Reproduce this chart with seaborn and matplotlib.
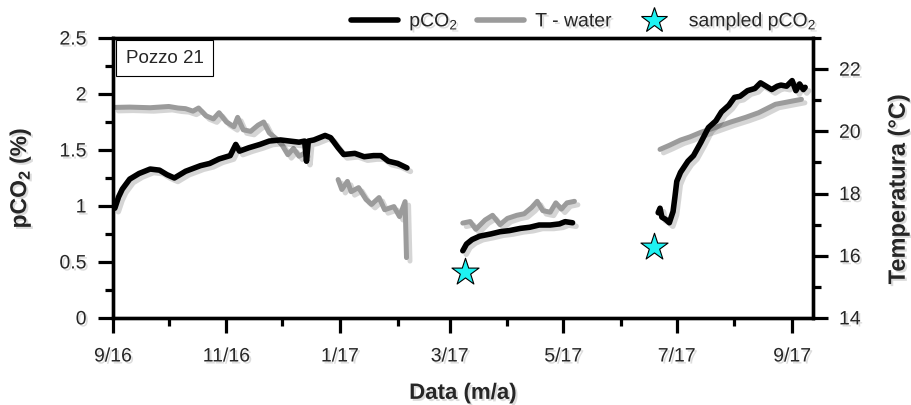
import matplotlib
matplotlib.use("Agg")
import pandas as pd
import seaborn as sns
import matplotlib.pyplot as plt
import matplotlib.dates as mdates
import matplotlib.patheffects as pe
from matplotlib.lines import Line2D
from matplotlib.ticker import MultipleLocator, FuncFormatter

# pCO2 (%) logger, three deployments
pco2_dates_1 = ["2016-09-02", "2016-09-04", "2016-09-06", "2016-09-10", "2016-09-15", "2016-09-21",
                "2016-09-26", "2016-09-30", "2016-10-04", "2016-10-10", "2016-10-18", "2016-10-23",
                "2016-10-28", "2016-11-03", "2016-11-06", "2016-11-08", "2016-11-13", "2016-11-19",
                "2016-11-24", "2016-11-30", "2016-12-05", "2016-12-10", "2016-12-13", "2016-12-14",
                "2016-12-15", "2016-12-18", "2016-12-24", "2016-12-27", "2016-12-31", "2017-01-03",
                "2017-01-09", "2017-01-14", "2017-01-19", "2017-01-23", "2017-01-27", "2017-02-01",
                "2017-02-06"]
pco2_vals_1 = [0.98, 1.08, 1.15, 1.24, 1.29, 1.33, 1.32, 1.28, 1.25, 1.31, 1.36, 1.38,
               1.42, 1.45, 1.55, 1.49, 1.52, 1.55, 1.58, 1.59, 1.58, 1.57, 1.58, 1.40,
               1.58, 1.59, 1.63, 1.61, 1.52, 1.46, 1.47, 1.44, 1.45, 1.45, 1.40, 1.38, 1.34]

pco2_dates_2 = ["2017-03-08", "2017-03-10", "2017-03-13", "2017-03-17", "2017-03-23", "2017-03-28",
                "2017-04-02", "2017-04-08", "2017-04-13", "2017-04-18", "2017-04-24", "2017-04-29",
                "2017-05-02", "2017-05-06"]
pco2_vals_2 = [0.60, 0.66, 0.70, 0.73, 0.75, 0.77, 0.78, 0.80, 0.81, 0.83, 0.83, 0.84, 0.86, 0.85]

pco2_dates_3 = ["2017-06-21", "2017-06-22", "2017-06-23", "2017-06-25", "2017-06-27", "2017-06-29",
                "2017-06-30", "2017-07-01", "2017-07-03", "2017-07-07", "2017-07-10", "2017-07-14",
                "2017-07-18", "2017-07-22", "2017-07-25", "2017-07-29", "2017-08-01", "2017-08-04",
                "2017-08-08", "2017-08-12", "2017-08-15", "2017-08-18", "2017-08-21", "2017-08-24",
                "2017-08-26", "2017-08-29", "2017-09-01", "2017-09-03", "2017-09-05", "2017-09-07",
                "2017-09-08"]
pco2_vals_3 = [0.94, 0.98, 0.90, 0.88, 0.85, 0.95, 1.08, 1.22, 1.30, 1.40, 1.45, 1.57,
               1.70, 1.76, 1.84, 1.90, 1.97, 1.98, 2.03, 2.05, 2.10, 2.07, 2.04, 2.07,
               2.08, 2.07, 2.12, 2.03, 2.09, 2.04, 2.06]

# water temperature (°C)
temp_dates_1 = ["2016-09-02", "2016-09-10", "2016-09-21", "2016-10-01", "2016-10-06", "2016-10-10",
                "2016-10-14", "2016-10-17", "2016-10-21", "2016-10-25", "2016-10-28", "2016-11-01",
                "2016-11-05", "2016-11-07", "2016-11-10", "2016-11-14", "2016-11-18", "2016-11-21",
                "2016-11-24", "2016-11-28", "2016-12-01", "2016-12-04", "2016-12-07", "2016-12-10",
                "2016-12-13"]
temp_vals_1 = [20.77, 20.78, 20.76, 20.80, 20.75, 20.73, 20.65, 20.75, 20.50, 20.40, 20.60, 20.30,
               20.15, 20.45, 20.05, 20.00, 20.20, 20.30, 19.95, 19.75, 19.55, 19.25, 19.45, 19.20,
               19.30]

temp_dates_2 = ["2016-12-31", "2017-01-02", "2017-01-05", "2017-01-07", "2017-01-11", "2017-01-15",
                "2017-01-18", "2017-01-22", "2017-01-25", "2017-01-30", "2017-02-02", "2017-02-05",
                "2017-02-05T18:00"]
temp_vals_2 = [18.45, 18.13, 18.39, 18.06, 18.19, 17.81, 17.65, 17.87, 17.48, 17.58, 17.26, 17.74,
               15.94]

temp_dates_3 = ["2017-03-08", "2017-03-12", "2017-03-15", "2017-03-20", "2017-03-24", "2017-03-28",
                "2017-04-01", "2017-04-06", "2017-04-10", "2017-04-14", "2017-04-17", "2017-04-20",
                "2017-04-24", "2017-04-27", "2017-04-30", "2017-05-03", "2017-05-07"]
temp_vals_3 = [17.05, 17.10, 16.85, 17.15, 17.30, 17.00, 17.20, 17.30, 17.35, 17.55, 17.75, 17.45,
               17.40, 17.70, 17.50, 17.70, 17.75]

temp_dates_4 = ["2017-06-22", "2017-06-27", "2017-07-03", "2017-07-08", "2017-07-14", "2017-07-22",
                "2017-07-30", "2017-08-07", "2017-08-14", "2017-08-19", "2017-08-23", "2017-08-30",
                "2017-09-06"]
temp_vals_4 = [19.42, 19.55, 19.72, 19.82, 19.97, 20.13, 20.30, 20.45, 20.60, 20.75, 20.87, 20.95,
               21.03]

# spot samples
sample_dates = ["2017-03-09", "2017-06-19"]
sample_vals = [0.41, 0.63]


def build(segments, col):
    frames = []
    for i, (d, v) in enumerate(segments):
        frames.append(pd.DataFrame({"date": pd.to_datetime(d, format="ISO8601"), col: v, "seg": i}))
    return pd.concat(frames, ignore_index=True)


pco2 = build([(pco2_dates_1, pco2_vals_1), (pco2_dates_2, pco2_vals_2),
              (pco2_dates_3, pco2_vals_3)], "pco2")
temp = build([(temp_dates_1, temp_vals_1), (temp_dates_2, temp_vals_2),
              (temp_dates_3, temp_vals_3), (temp_dates_4, temp_vals_4)], "temp")
samples = pd.DataFrame({"date": pd.to_datetime(sample_dates), "pco2": sample_vals})

sns.set_theme(style="ticks")
plt.rcParams["font.family"] = ["Liberation Sans", "DejaVu Sans"]
plt.rcParams["mathtext.default"] = "regular"

GREY = "#9b9b9b"
CYAN = "#1ef2f2"
shadow_line = [pe.SimpleLineShadow(offset=(2.5, -2.5), shadow_color="k", alpha=0.18), pe.Normal()]
shadow_txt = [pe.withSimplePatchShadow(offset=(1.5, -1.5), shadow_rgbFace="k", alpha=0.15)]

fig = plt.figure(figsize=(9.11, 4.05), dpi=100)
ax = fig.add_axes([0.124, 0.215, 0.768, 0.691])
ax2 = ax.twinx()

sns.lineplot(data=temp, x="date", y="temp", units="seg", estimator=None, sort=False,
             color=GREY, lw=3.6, ax=ax2, legend=False)
sns.lineplot(data=pco2, x="date", y="pco2", units="seg", estimator=None, sort=False,
             color="black", lw=4.0, ax=ax, legend=False)
sns.scatterplot(data=samples, x="date", y="pco2", marker="*", s=420, color=CYAN,
                edgecolor="black", linewidth=0.8, ax=ax, zorder=5)

for a in (ax, ax2):
    for ln in a.lines:
        ln.set_solid_capstyle("round")
        ln.set_solid_joinstyle("round")
        ln.set_path_effects(shadow_line)

ax.set_zorder(ax2.get_zorder() + 1)
ax.patch.set_visible(False)

ax.set_xlim(pd.Timestamp("2016-09-01"), pd.Timestamp("2017-09-12"))
ax.set_ylim(0, 2.5)
ax2.set_ylim(14, 23)

ax.xaxis.set_major_locator(mdates.MonthLocator(bymonth=[1, 3, 5, 7, 9, 11]))
ax.xaxis.set_minor_locator(mdates.MonthLocator(bymonth=[2, 4, 6, 8, 10, 12]))
ax.xaxis.set_major_formatter(FuncFormatter(
    lambda v, p: f"{mdates.num2date(v).month}/{mdates.num2date(v):%y}"))
ax.yaxis.set_major_locator(MultipleLocator(0.5))
ax.yaxis.set_minor_locator(MultipleLocator(0.25))
ax.yaxis.set_major_formatter(FuncFormatter(lambda v, p: f"{v:g}"))
ax2.yaxis.set_major_locator(MultipleLocator(2))
ax2.yaxis.set_minor_locator(MultipleLocator(1))

for a in (ax, ax2):
    a.tick_params(which="major", length=11, width=2.3, labelsize=14, pad=8, color="black")
    a.tick_params(which="minor", length=6, width=2.3, color="black")
    for s in a.spines.values():
        s.set_linewidth(2.4)
        s.set_color("black")
        s.set_visible(True)
ax.tick_params(axis="x", which="major", pad=11)

ax.set_xlabel("Data (m/a)", fontsize=16, fontweight="bold")
ax.set_ylabel("pCO$_2$ (%)", fontsize=16.5, fontweight="bold")
ax2.set_ylabel("Temperatura (°C)", fontsize=17, fontweight="bold")
ax.xaxis.set_label_coords(0.5, -0.232)
ax.yaxis.set_label_coords(-0.114, 0.5)
ax2.yaxis.set_label_coords(1.106, 0.46)

ax.text(0.018, 0.958, "Pozzo 21", transform=ax.transAxes, fontsize=13.5, va="top", ha="left",
        bbox=dict(boxstyle="square,pad=0.5", fc="white", ec="black", lw=0.8))

handles = [Line2D([], [], color="black", lw=4),
           Line2D([], [], color=GREY, lw=4),
           Line2D([], [], marker="*", ls="none", ms=19, mfc=CYAN, mec="black", mew=0.8)]
labels = ["pCO$_2$", "T - water", "sampled pCO$_2$"]
leg = fig.legend(handles, labels, loc="center", bbox_to_anchor=(0.641, 0.946), ncol=3,
                 frameon=False, fontsize=14, handlelength=2.4, columnspacing=0.95,
                 handletextpad=0.6)

for t in ax.get_xticklabels() + ax.get_yticklabels() + ax2.get_yticklabels():
    t.set_path_effects(shadow_txt)
for t in [ax.xaxis.label, ax.yaxis.label, ax2.yaxis.label] + leg.get_texts():
    t.set_path_effects(shadow_txt)

fig.savefig("out.png", dpi=100)
